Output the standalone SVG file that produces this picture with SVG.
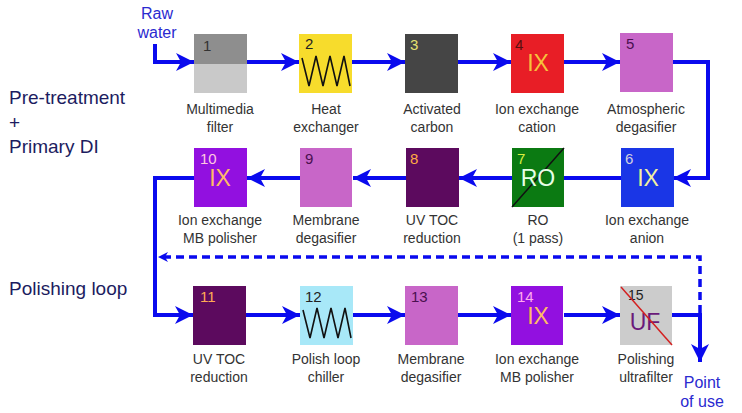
<svg xmlns="http://www.w3.org/2000/svg" width="742" height="413" viewBox="0 0 742 413">
<style>
.lbl{font-family:"Liberation Sans",Arial,sans-serif;font-size:14px;fill:#333;text-anchor:middle}
.num{font-family:"Liberation Sans",Arial,sans-serif;font-size:15px}
.big{font-family:"Liberation Sans",Arial,sans-serif;font-size:23px;text-anchor:middle}
.side{font-family:"Liberation Sans",Arial,sans-serif;font-size:19px;fill:#1c1c60}
.blue{font-family:"Liberation Sans",Arial,sans-serif;font-size:16px;fill:#2a2ad0;text-anchor:middle}
.flow{fill:none;stroke:#0a0aee;stroke-width:4}
.dash{fill:none;stroke:#0a0aee;stroke-width:3.5;stroke-dasharray:8 5}
.zig{fill:none;stroke:#111;stroke-width:1.6}
</style>
<defs>
<marker id="ah" markerUnits="userSpaceOnUse" markerWidth="20" markerHeight="18" refX="18" refY="9" orient="auto">
<path d="M0,0 L18,9 L0,18 L5,9 Z" fill="#0a0aee"/>
</marker>
<marker id="ahs" markerUnits="userSpaceOnUse" markerWidth="12" markerHeight="12" refX="10" refY="6" orient="auto">
<path d="M0,1 L10,6 L0,11 L3,6 Z" fill="#0a0aee"/>
</marker>
</defs>

<text class="blue" x="157" y="19">Raw</text>
<text class="blue" x="157" y="38">water</text>
<text class="blue" x="702" y="388">Point</text>
<text class="blue" x="702" y="407">of use</text>

<text class="side" x="9" y="104">Pre-treatment</text>
<text class="side" x="9" y="129">+</text>
<text class="side" x="9" y="153">Primary DI</text>
<text class="side" x="9" y="295">Polishing loop</text>

<g id="connectors">
<path class="flow" d="M155,44 V62 H194" marker-end="url(#ah)"/>
<path class="flow" d="M247,62 H299" marker-end="url(#ah)"/>
<path class="flow" d="M352,62 H405" marker-end="url(#ah)"/>
<path class="flow" d="M458,62 H511" marker-end="url(#ah)"/>
<path class="flow" d="M564,62 H620" marker-end="url(#ah)"/>
<path class="flow" d="M673,62 H708 V178 H673" marker-end="url(#ah)"/>
<path class="flow" d="M621,178 H564"/>
<path class="flow" d="M512,178 H459" marker-end="url(#ah)"/>
<path class="flow" d="M406,178 H353" marker-end="url(#ah)"/>
<path class="flow" d="M300,178 H247" marker-end="url(#ah)"/>
<path class="flow" d="M194,178 H155 V315 H193" marker-end="url(#ah)"/>
<path class="flow" d="M246,315 H300" marker-end="url(#ah)"/>
<path class="flow" d="M353,315 H405" marker-end="url(#ah)"/>
<path class="flow" d="M458,315 H511" marker-end="url(#ah)"/>
<path class="flow" d="M564,315 H620" marker-end="url(#ah)"/>
<path class="flow" d="M672,315 H700 V362" marker-end="url(#ah)"/>
<path class="dash" d="M700,313 V257 H158" marker-end="url(#ahs)"/>
</g>

<g id="n1">
<rect x="194" y="34" width="53" height="30" fill="#8e8e8e"/>
<rect x="194" y="64" width="53" height="29" fill="#c9c9c9"/>
<text class="num" x="203" y="51" fill="#333">1</text>
<text class="lbl" x="220" y="114">Multimedia</text>
<text class="lbl" x="220" y="132">filter</text>
</g>
<g id="n2">
<rect x="299" y="34" width="53" height="59" fill="#f7dc2c"/>
<path class="zig" d="M302,58 L309,86 L316,56 L323,86 L330,56 L337,86 L344,56 L350,86"/>
<text class="num" x="305" y="49" fill="#222">2</text>
<text class="lbl" x="326" y="114">Heat</text>
<text class="lbl" x="326" y="132">exchanger</text>
</g>
<g id="n3">
<rect x="405" y="34" width="53" height="59" fill="#454545"/>
<text class="num" x="410" y="50" fill="#e4e070">3</text>
<text class="lbl" x="432" y="114">Activated</text>
<text class="lbl" x="432" y="132">carbon</text>
</g>
<g id="n4">
<rect x="511" y="34" width="53" height="59" fill="#e81e26"/>
<text class="num" x="515" y="50" fill="#5a1010">4</text>
<text class="big" x="538" y="71" fill="#f6c23c">IX</text>
<text class="lbl" x="537" y="114">Ion exchange</text>
<text class="lbl" x="537" y="132">cation</text>
</g>
<g id="n5">
<rect x="620" y="33" width="53" height="59" fill="#c866c8"/>
<text class="num" x="626" y="49" fill="#4a1050">5</text>
<text class="lbl" x="646" y="114">Atmospheric</text>
<text class="lbl" x="646" y="132">degasifier</text>
</g>

<g id="n6">
<rect x="621" y="148" width="53" height="59" fill="#1a36e6"/>
<text class="num" x="625" y="164" fill="#d0d0e0">6</text>
<text class="big" x="648" y="186" fill="#f2f0a0">IX</text>
<text class="lbl" x="647" y="225">Ion exchange</text>
<text class="lbl" x="647" y="243">anion</text>
</g>
<g id="n7">
<rect x="512" y="148" width="52" height="59" fill="#0b7a12"/>
<line x1="512" y1="207" x2="564" y2="148" stroke="#111" stroke-width="1.5"/>
<text class="num" x="517" y="164" fill="#d8f040">7</text>
<text class="big" x="538" y="186" fill="#e6ffe6">RO</text>
<text class="lbl" x="538" y="225">RO</text>
<text class="lbl" x="538" y="243">(1 pass)</text>
</g>
<g id="n8">
<rect x="406" y="148" width="53" height="59" fill="#5c0a5e"/>
<text class="num" x="410" y="164" fill="#ffaa44">8</text>
<text class="lbl" x="432" y="225">UV TOC</text>
<text class="lbl" x="432" y="243">reduction</text>
</g>
<g id="n9">
<rect x="300" y="148" width="52" height="59" fill="#c866c8"/>
<text class="num" x="305" y="164" fill="#4a1050">9</text>
<text class="lbl" x="326" y="225">Membrane</text>
<text class="lbl" x="326" y="243">degasifier</text>
</g>
<g id="n10">
<rect x="194" y="148" width="53" height="59" fill="#9210e0"/>
<text class="num" x="200" y="164" fill="#ffc8e0">10</text>
<text class="big" x="220" y="186" fill="#ffbb66">IX</text>
<text class="lbl" x="220" y="225">Ion exchange</text>
<text class="lbl" x="220" y="243">MB polisher</text>
</g>

<g id="n11">
<rect x="193" y="286" width="53" height="59" fill="#5c0a5e"/>
<text class="num" x="200" y="302" fill="#ffaa55">11</text>
<text class="lbl" x="219" y="364">UV TOC</text>
<text class="lbl" x="219" y="382">reduction</text>
</g>
<g id="n12">
<rect x="300" y="286" width="53" height="59" fill="#a8e8f8"/>
<path class="zig" d="M303,310 L310,338 L317,308 L324,338 L331,308 L338,338 L345,308 L351,338"/>
<text class="num" x="305" y="302" fill="#222">12</text>
<text class="lbl" x="326" y="364">Polish loop</text>
<text class="lbl" x="326" y="382">chiller</text>
</g>
<g id="n13">
<rect x="405" y="286" width="53" height="59" fill="#c866c8"/>
<text class="num" x="411" y="302" fill="#4a1050">13</text>
<text class="lbl" x="431" y="364">Membrane</text>
<text class="lbl" x="431" y="382">degasifier</text>
</g>
<g id="n14">
<rect x="511" y="286" width="52" height="59" fill="#9210e0"/>
<text class="num" x="517" y="302" fill="#ffaaee">14</text>
<text class="big" x="538" y="324" fill="#ffbb66">IX</text>
<text class="lbl" x="537" y="364">Ion exchange</text>
<text class="lbl" x="537" y="382">MB polisher</text>
</g>
<g id="n15">
<rect x="620" y="286" width="52" height="59" fill="#cccccc"/>
<text class="num" x="628" y="300" fill="#222" style="font-size:14px">15</text>
<text class="big" x="645" y="330" fill="#6a1a7a">UF</text>
<line x1="621" y1="287" x2="672" y2="345" stroke="#d42020" stroke-width="1.5"/>
<text class="lbl" x="646" y="364">Polishing</text>
<text class="lbl" x="646" y="382">ultrafilter</text>
</g>
</svg>
